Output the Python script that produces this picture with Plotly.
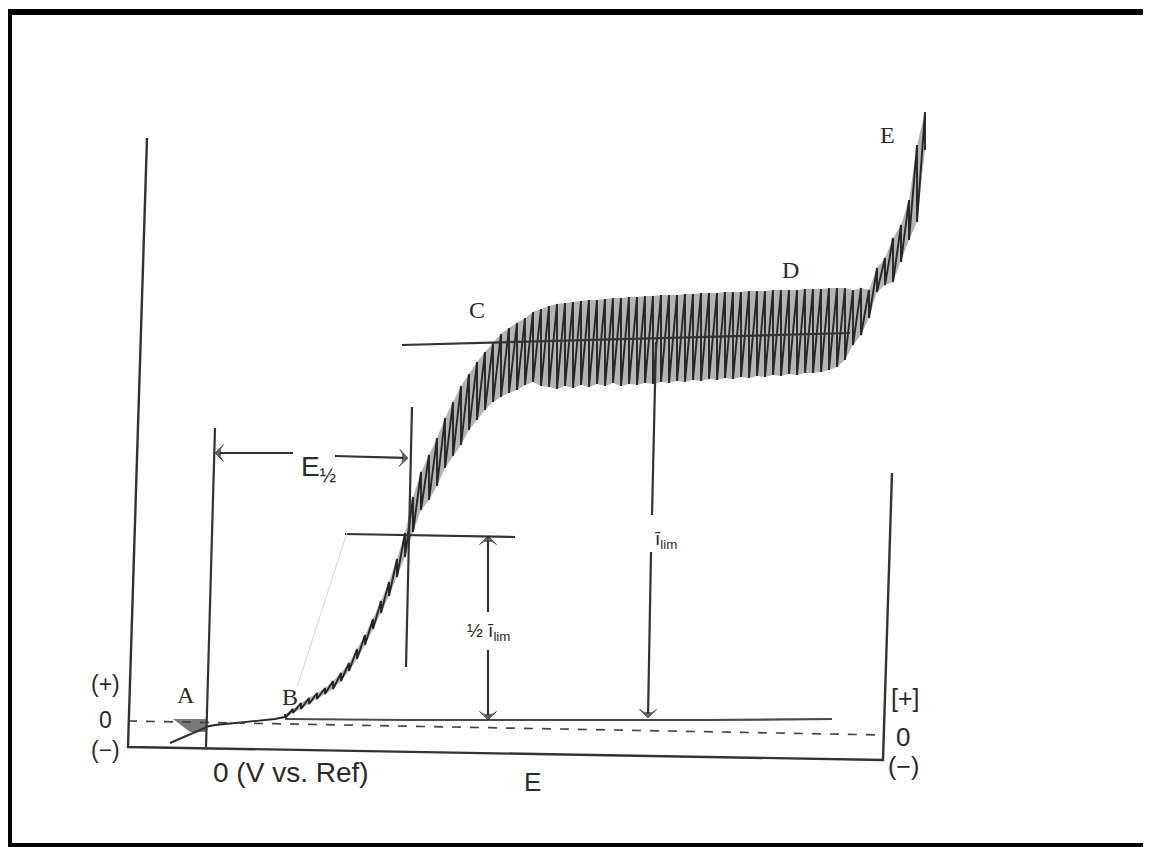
import plotly.graph_objects as go

# ---------------- data ----------------
# potential E (mV vs. Ref) of each mercury-drop fall, and the current
# (arbitrary µA units) at the top and bottom of each oscillation
DROP_E = [160, 176, 192, 208, 224, 240, 256, 272, 288, 304,
          320, 336, 352, 368, 384, 400, 416, 432, 448, 464,
          480, 496, 512, 528, 544, 560, 576, 592, 608, 624,
          640, 656, 672, 688, 704, 720, 736, 752, 768, 784,
          800, 816, 832, 848, 864, 880, 896, 912, 928, 944,
          960, 976, 992, 1008, 1024, 1040, 1056, 1072, 1088, 1104,
          1120, 1136, 1152, 1168, 1184, 1200, 1216, 1232, 1248, 1264,
          1280, 1296, 1312, 1328, 1344, 1360, 1376, 1392, 1408, 1424,
          1440]
I_TOP = [0.14, 0.24, 0.36, 0.46, 0.56, 0.66, 0.80, 0.96, 1.16, 1.44,
         1.72, 2.04, 2.40, 2.78, 3.24, 3.76, 4.48, 4.98, 5.32, 5.66,
         6.06, 6.38, 6.70, 6.94, 7.18, 7.38, 7.56, 7.74, 7.86, 7.96,
         8.06, 8.18, 8.24, 8.30, 8.34, 8.36, 8.38, 8.40, 8.42, 8.42,
         8.44, 8.46, 8.46, 8.48, 8.48, 8.50, 8.50, 8.52, 8.52, 8.52,
         8.54, 8.54, 8.56, 8.56, 8.56, 8.58, 8.58, 8.58, 8.60, 8.60,
         8.60, 8.62, 8.62, 8.62, 8.62, 8.64, 8.64, 8.64, 8.66, 8.66,
         8.66, 8.62, 8.66, 8.62, 9.06, 9.26, 9.66, 9.92, 10.42, 11.52,
         12.18]
I_BOT = [0.06, 0.16, 0.24, 0.34, 0.44, 0.54, 0.64, 0.80, 1.00, 1.24,
         1.52, 1.84, 2.16, 2.50, 2.88, 3.28, 3.78, 4.22, 4.42, 4.70,
         5.06, 5.30, 5.52, 5.82, 6.02, 6.22, 6.38, 6.48, 6.56, 6.62,
         6.72, 6.78, 6.70, 6.68, 6.64, 6.70, 6.66, 6.72, 6.68, 6.74,
         6.70, 6.76, 6.70, 6.74, 6.72, 6.76, 6.74, 6.78, 6.76, 6.80,
         6.78, 6.82, 6.80, 6.84, 6.82, 6.86, 6.84, 6.88, 6.86, 6.90,
         6.88, 6.92, 6.90, 6.94, 6.92, 6.96, 6.96, 6.98, 7.02, 7.08,
         7.22, 7.52, 7.72, 8.06, 8.58, 8.72, 8.78, 9.18, 9.62, 9.98,
         11.42]

# residual current from 0 V up to point B
RES_E = [0, 20, 40, 60, 80, 100, 120, 140, 160]
RES_I = [-0.12, -0.08, -0.06, -0.04, -0.02, 0.0, 0.02, 0.04, 0.08]
# extrapolated residual-current baseline
BASE_E = [160, 400, 700, 1000, 1254]
BASE_I = [0.04, 0.02, 0.02, 0.02, 0.04]
# crossing near A (shaded) and its slanted trace
NEG_E = [-64, 4, 4, -30]
NEG_I = [0.04, 0.04, -0.22, -0.22]
SLANT_E = [-70, 4]
SLANT_I = [-0.44, -0.12]
# dashed zero-current line
ZERO_E = [-154, 1356]
ZERO_I = [0.0, -0.28]
# chart frame: left axis top -> bottom left -> bottom right -> right axis top
FRAME_E = [-116, -154, 1356, 1374]
FRAME_I = [11.66, -0.52, -0.78, 4.96]
# construction lines
ZERO_V_E = [2, 20]
ZERO_V_I = [-0.52, 5.86]
HALF_V_E = [402, 414]
HALF_V_I = [1.08, 6.28]
HALF_H_E = [280, 620]
HALF_H_I = [3.74, 3.68]
LIM_H_E = [394, 1290]
LIM_H_I = [7.52, 7.76]
LIM_V_E = [902, 894]
LIM_V_I = [7.58, 4.12]
PENCIL_E = [184, 284]
PENCIL_I = [0.68, 3.76]
# arrows: (tail E, tail i, head E, head i)
ARROWS = [
    (176, 5.36, 20, 5.36),     # E1/2 left
    (260, 5.30, 406, 5.26),    # E1/2 right
    (566, 2.18, 566, 3.70),    # 1/2 ilim up
    (566, 1.42, 566, 0.02),    # 1/2 ilim down
    (892, 3.38, 886, 0.06),    # ilim down
]

INK = "#333333"
SERIF = "Liberation Serif"
SANS = "Liberation Sans"

fig = go.Figure()


def line(xs, ys, width=2.0, color=INK, dash=None):
    fig.add_trace(go.Scatter(x=xs, y=ys, mode="lines",
                             line=dict(color=color, width=width, dash=dash),
                             hoverinfo="skip", showlegend=False))


# shaded band of the oscillating current
fig.add_trace(go.Scatter(x=DROP_E + DROP_E[::-1], y=I_TOP + I_BOT[::-1],
                         mode="lines", fill="toself", fillcolor="#b4b4b4",
                         line=dict(width=0), hoverinfo="skip", showlegend=False))

# sawtooth: top -> drop fall -> bottom -> grow to next top
saw_x, saw_y = [], []
for e, t, b in zip(DROP_E, I_TOP, I_BOT):
    saw_x += [e, e]
    saw_y += [t, b]
line(RES_E + saw_x, RES_I + saw_y, width=1.9, color="#262626")

line(BASE_E, BASE_I, width=2.2, color="#4a4a4a")
fig.add_trace(go.Scatter(x=NEG_E, y=NEG_I, mode="lines", fill="toself",
                         fillcolor="#7a7a7a", line=dict(width=0),
                         hoverinfo="skip", showlegend=False))
line(SLANT_E, SLANT_I, width=2.2)
line(ZERO_E, ZERO_I, width=1.7, color="#444444", dash="dash")
line(FRAME_E, FRAME_I, width=2.4)
line(ZERO_V_E, ZERO_V_I, width=2.2)
line(HALF_V_E, HALF_V_I, width=2.2)
line(HALF_H_E, HALF_H_I, width=2.2)
line(LIM_H_E, LIM_H_I, width=2.2)
line(LIM_V_E, LIM_V_I, width=2.2)
line(PENCIL_E, PENCIL_I, width=1.0, color="#d4d4d4")

for te, ti, he, hi in ARROWS:
    fig.add_trace(go.Scatter(
        x=[te, he], y=[ti, hi], mode="lines+markers",
        line=dict(color=INK, width=2.2),
        marker=dict(symbol="arrow-wide", size=[0, 12], angleref="previous",
                    color="#1e1e1e", line=dict(width=1, color="#1e1e1e")),
        hoverinfo="skip", showlegend=False))

labels = [
    ("A", -38, 0.52, SERIF, 24),
    ("B", 170, 0.48, SERIF, 24),
    ("C", 544, 8.22, SERIF, 24),
    ("D", 1170, 9.02, SERIF, 24),
    ("E", 1364, 11.72, SERIF, 24),
    ("E<sub>½</sub>", 226, 5.06, SANS, 28),
    ("½ ī<sub>lim</sub>", 566, 1.78, SANS, 19),
    ("ī<sub>lim</sub>", 922, 3.62, SANS, 19),
    ("(+)", -200, 0.74, SANS, 23),
    ("0", -200, 0.02, SANS, 23),
    ("(−)", -200, -0.58, SANS, 23),
    ("[+]", 1400, 0.46, SANS, 25),
    ("0", 1396, -0.32, SANS, 26),
    ("(−)", 1396, -0.90, SANS, 25),
    ("0 (V vs. Ref)", 172, -1.02, SANS, 28),
    ("E", 654, -1.22, SANS, 26),
]
for txt, x, y, fam, size in labels:
    fig.add_annotation(x=x, y=y, xref="x", yref="y", text=txt,
                       showarrow=False, xanchor="center", yanchor="middle",
                       font=dict(family=fam, size=size, color="#2a2a2a"))

# the page adds an 8 px body margin; the figure is laid out for that offset
W, H = 1151, 847
fig.add_shape(type="rect", xref="paper", yref="paper",
              x0=1 / W, x1=1142 / W, y0=1 - 838 / H, y1=1 - 4 / H,
              line=dict(color="black", width=6), fillcolor="rgba(0,0,0,0)")

fig.update_layout(
    width=W, height=H, margin=dict(l=0, r=0, t=0, b=0),
    paper_bgcolor="white", plot_bgcolor="white",
    xaxis=dict(range=[-394, 1908], visible=False, fixedrange=True),
    yaxis=dict(range=[-2.68, 14.26], visible=False, fixedrange=True),
)

fig.write_html("out.html")
